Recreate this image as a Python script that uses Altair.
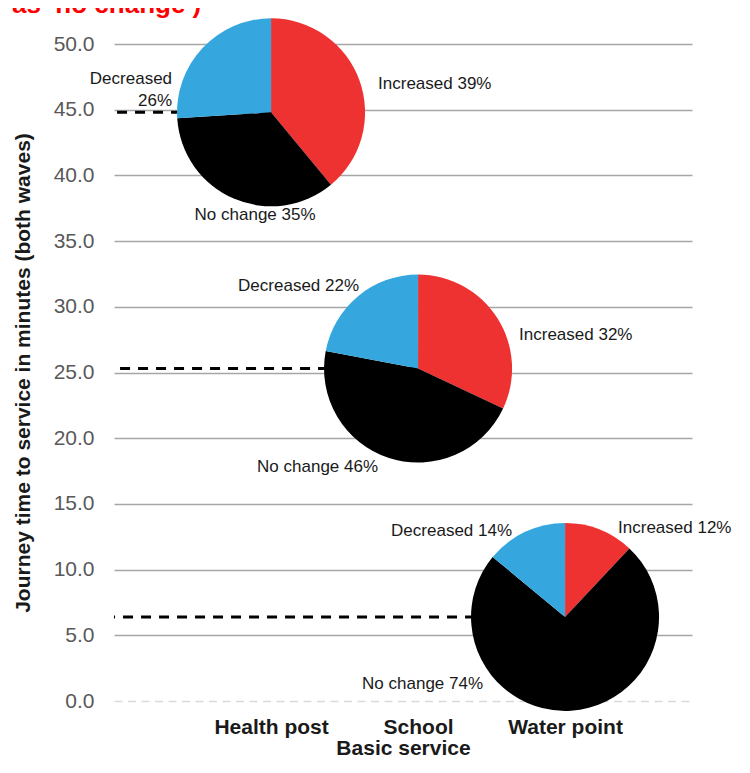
import altair as alt
import pandas as pd

# ---- data ----
services = ["Health post", "School", "Water point"]
journey_time = [44.8, 25.3, 6.4]          # minutes (both waves), dashed line / pie centre
changes = ["Increased", "No change", "Decreased"]
pct_increased = [39, 32, 12]
pct_no_change = [35, 46, 74]
pct_decreased = [26, 22, 14]
change_colors = ["#EE3131", "#000000", "#35A7DE"]
title_fragment = "as \u2018no change\u2019)"

# ---- tables built from the arrays ----
times_df = pd.DataFrame({"service": services, "time": journey_time})
rows = []
for i, s in enumerate(services):
    for j, (c, p) in enumerate(zip(changes, [pct_increased[i], pct_no_change[i], pct_decreased[i]])):
        rows.append({"service": s, "time": journey_time[i], "change": c, "pct": p,
                     "order": j, "label": f"{c} {p}%"})
pie_df = pd.DataFrame(rows)

FONT = "Liberation Sans"

x_enc = alt.X(
    "service:N",
    scale=alt.Scale(type="point", domain=services, padding=0.966, align=0.553),
    axis=alt.Axis(title="Basic service", labelAngle=0, ticks=False, domain=False, grid=False,
                  labelFont=FONT, labelFontSize=21, labelFontWeight="bold", labelColor="#1a1a1a",
                  labelPadding=15, titleFont=FONT, titleFontSize=21, titleFontWeight="bold",
                  titleColor="#1a1a1a", titlePadding=0),
)
y_enc = alt.Y(
    "time:Q",
    stack=None,
    scale=alt.Scale(domain=[0, 50], nice=False, zero=True),
    axis=alt.Axis(title="Journey time to service in minutes (both waves)",
                  values=list(range(0, 55, 5)), format=".1f", ticks=False, domain=False,
                  labelFont=FONT, labelFontSize=21, labelColor="#595959", labelPadding=20,
                  titleFont=FONT, titleFontSize=21, titleFontWeight="bold", titleColor="#1a1a1a",
                  titlePadding=20,
                  gridColor={"condition": {"test": "datum.value === 0", "value": "#d9d9d9"},
                             "value": "#a6a6a6"},
                  gridDash={"condition": {"test": "datum.value === 0", "value": [8, 5.5]},
                            "value": [1, 0]},
                  gridWidth=1.6),
)

dashed = alt.Chart(times_df).mark_rule(color="#000000", strokeWidth=3, strokeDash=[10, 8]).encode(
    x=x_enc, x2=alt.value(0), y=y_enc
)

pies = alt.Chart(pie_df).transform_stack(
    stack="pct", groupby=["service"], as_=["start", "end"], sort=[alt.SortField("order")]
).mark_arc(outerRadius=94).encode(
    x=x_enc,
    y=y_enc,
    theta=alt.Theta("start:Q", stack=None, scale=alt.Scale(domain=[0, 100])),
    theta2="end:Q",
    color=alt.Color("change:N", scale=alt.Scale(domain=changes, range=change_colors), legend=None),
)

# label placement relative to each pie centre: (dx, dy, align, line break)
label_place = {
    ("Health post", "Decreased"): (-99, -33, "right", True),
    ("Health post", "Increased"): (107, -28, "left", False),
    ("Health post", "No change"): (-16, 103, "center", False),
    ("School", "Decreased"): (-59, -83, "right", False),
    ("School", "Increased"): (101, -34, "left", False),
    ("School", "No change"): (-40, 98, "right", False),
    ("Water point", "Decreased"): (-53, -86, "right", False),
    ("Water point", "Increased"): (53, -89, "left", False),
    ("Water point", "No change"): (-82, 67, "right", False),
}

label_layers = []
for (s, c), (dx, dy, align, brk) in label_place.items():
    kw = dict(dx=dx, dy=dy, align=align, baseline="middle", font=FONT, fontSize=17, color="#1a1a1a")
    if brk:
        kw.update(lineBreak=" ", lineHeight=22)
    label_layers.append(
        alt.Chart(pie_df).transform_filter(
            (alt.datum.service == s) & (alt.datum.change == c)
        ).mark_text(**kw).encode(x=x_enc, y=y_enc, text="label:N")
    )

title_layer = alt.Chart(pd.DataFrame({"t": [title_fragment]})).mark_text(
    align="left", baseline="alphabetic", font=FONT, fontSize=26, fontWeight="bold", color="#FF0000"
).encode(text="t:N", x=alt.value(-102), y=alt.value(-31))

chart = alt.layer(dashed, pies, *label_layers, title_layer).properties(
    width=578,
    height=657,
    autosize=alt.AutoSizeParams(type="none"),
    padding={"left": 106, "top": 36, "right": 50, "bottom": 57},
).configure_view(stroke=None)

chart.save("out.html", embed_options={"renderer": "svg", "actions": False})
